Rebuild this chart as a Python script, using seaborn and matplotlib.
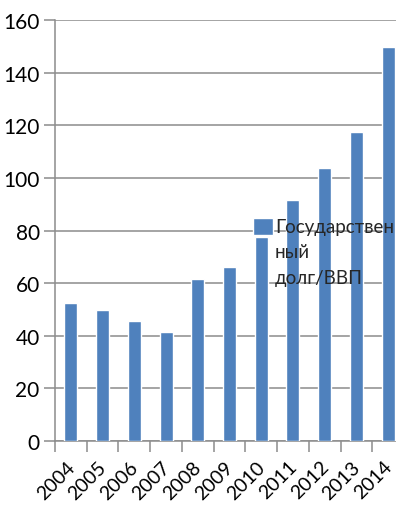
import matplotlib
matplotlib.use("Agg")
import matplotlib.pyplot as plt
import matplotlib.transforms as mtransforms
import seaborn as sns
import pandas as pd
import numpy as np

years = ["2004", "2005", "2006", "2007", "2008", "2009",
         "2010", "2011", "2012", "2013", "2014"]
debt_to_gdp = [52.4, 49.8, 45.6, 41.4, 61.6, 66.1, 77.5, 91.6, 103.8, 117.4, 149.8]
series_name = "Государствен\nный\nдолг/ВВП"
y_ticks = [0, 20, 40, 60, 80, 100, 120, 140, 160]

sns.set_theme(style="white")
plt.rcParams["font.family"] = ["Lato", "DejaVu Sans"]

df = pd.DataFrame({"year": years, "value": debt_to_gdp})

fig = plt.figure(figsize=(3.96, 5.10), dpi=100)
ax = fig.add_axes([55 / 396, 1 - 442 / 510, 349 / 396, (442 - 21) / 510])

sns.barplot(data=df, x="year", y="value", color="#4F81BD", saturation=1,
            width=0.41, ax=ax, label=series_name, zorder=3)

grid_c = "#8C8C8C"
ax.set_ylim(0, 160)
ax.set_yticks(y_ticks)
ax.set_xlim(-0.5, len(years) - 0.5)
ax.yaxis.grid(True, color=grid_c, linewidth=1.1, zorder=0)
ax.set_axisbelow(True)

for side in ["top", "right"]:
    ax.spines[side].set_visible(False)
for side in ["left", "bottom"]:
    ax.spines[side].set_color(grid_c)
    ax.spines[side].set_linewidth(1.1)

ax.set_xlabel("")
ax.set_ylabel("")

# category labels at centres, tick marks at category boundaries
ax.set_xticks(np.arange(len(years)))
ax.set_xticklabels(years, rotation=45, ha="right", rotation_mode="anchor",
                   fontsize=14, color="black")
ax.tick_params(axis="x", which="major", length=0, pad=12)
shift = mtransforms.ScaledTranslation(-5 / 100, 0, fig.dpi_scale_trans)
for lbl in ax.get_xticklabels():
    lbl.set_transform(lbl.get_transform() + shift)
ax.set_xticks(np.arange(len(years) + 1) - 0.5, minor=True)
ax.tick_params(axis="x", which="minor", length=8, width=1.1, color=grid_c,
               direction="out", bottom=True)
ax.tick_params(axis="y", length=8, width=1.1, color=grid_c, direction="out",
               left=True, labelsize=15, labelcolor="black", pad=3)

leg = ax.legend(loc="upper left", bbox_to_anchor=(253 / 396, 1 - 219 / 510),
                bbox_transform=fig.transFigure, frameon=False, fontsize=13.5,
                handlelength=1.05, handleheight=1.05, handletextpad=0.12,
                borderpad=0, borderaxespad=0)
for t in leg.get_texts():
    t.set_linespacing(1.6)
# pin the swatch to the first line of the wrapped label
for column in leg._legend_handle_box.get_children():
    for row in column.get_children():
        row.align = "top"

fig.savefig("out.png", dpi=100)
